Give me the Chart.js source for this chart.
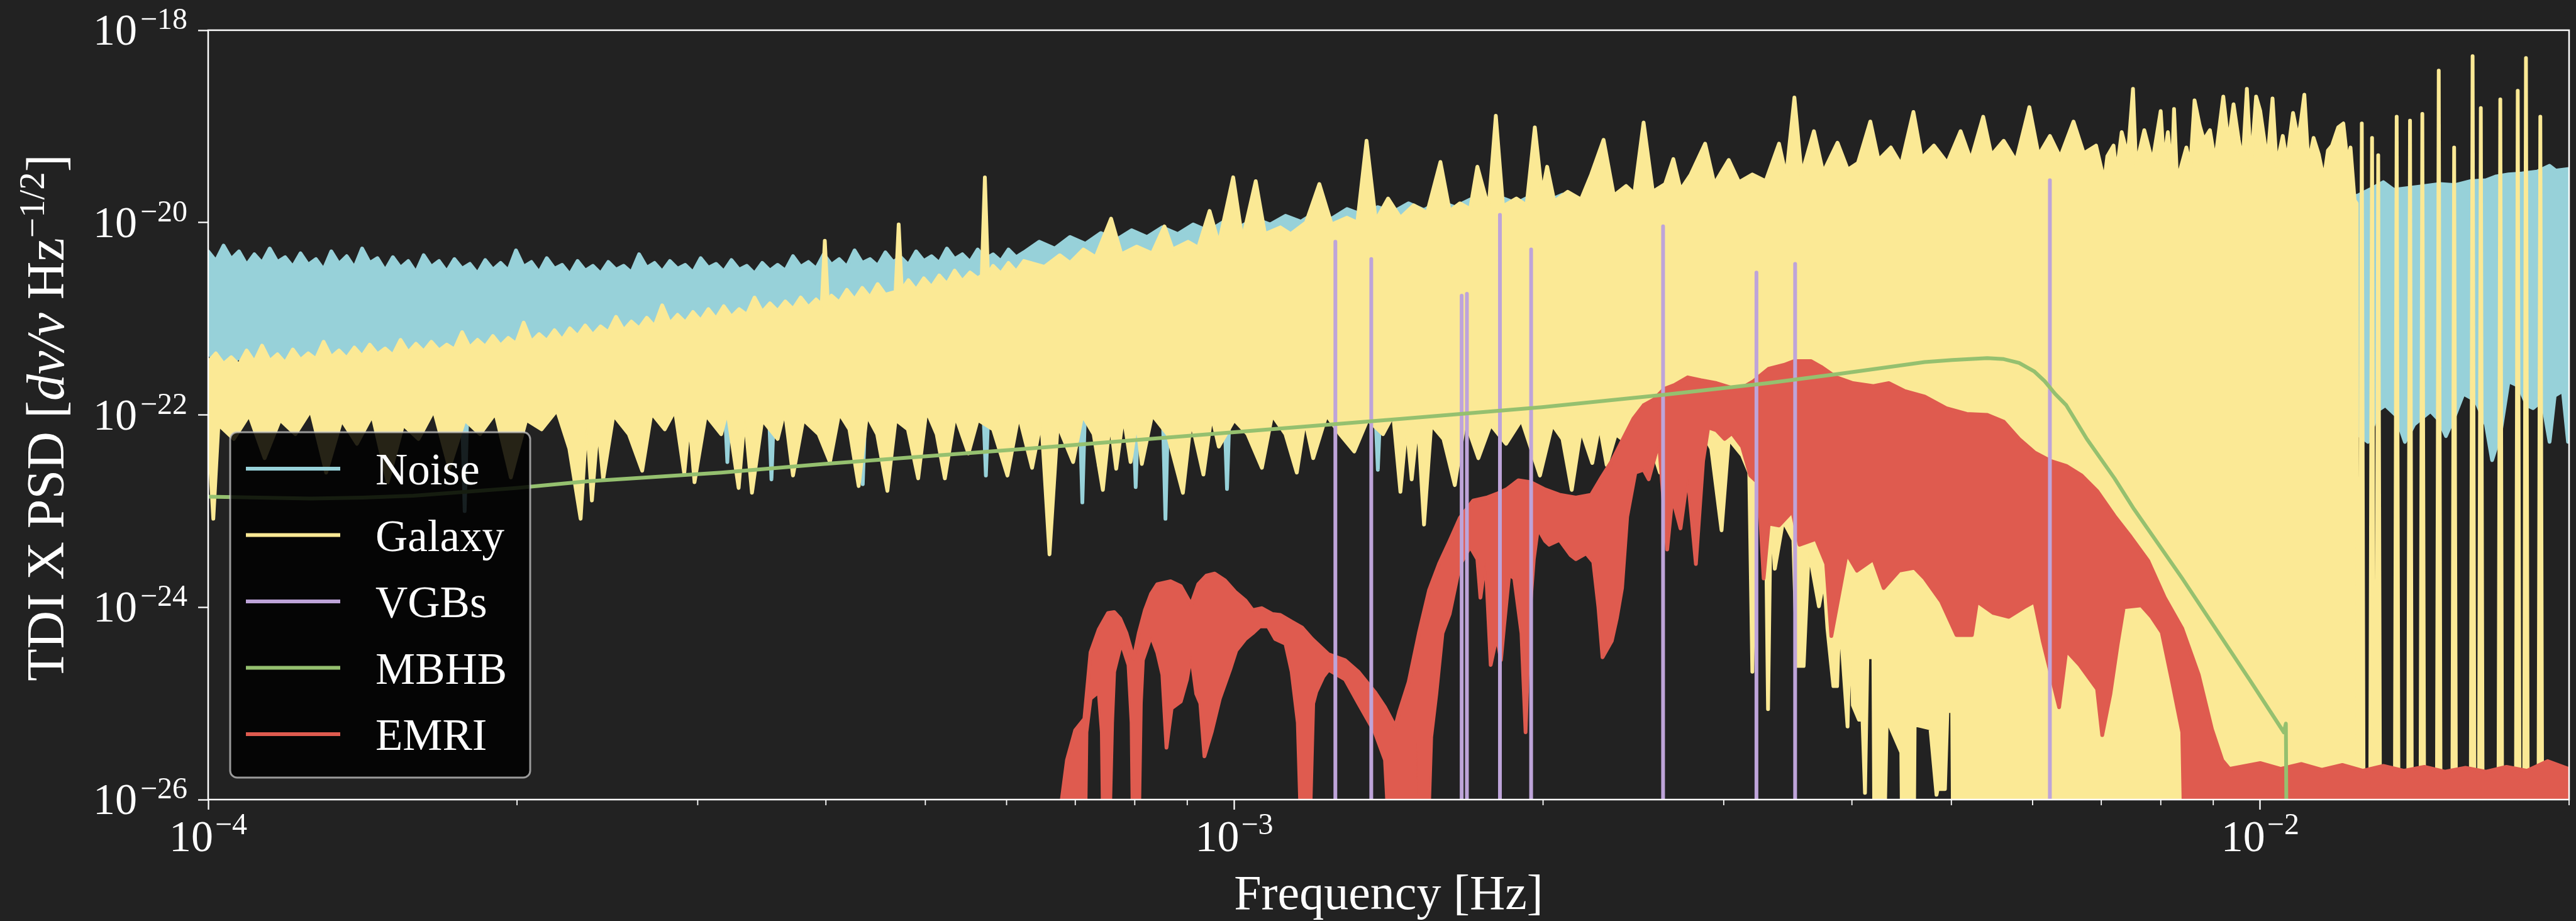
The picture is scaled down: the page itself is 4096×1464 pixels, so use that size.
<!DOCTYPE html>
<html>
<head>
<meta charset="utf-8">
<script src="https://cdn.jsdelivr.net/npm/chart.js@4.4.0/dist/chart.umd.min.js"></script>
<style>
  html, body { margin: 0; padding: 0; background: #222222; overflow: hidden; }
  canvas { display: block; }
</style>
</head>
<body>
<canvas id="psd" width="4096" height="1464"></canvas>
<script>
// every point is [log10 frequency (Hz), log10 PSD]
// -27 means "below the bottom of the plot"

var noiseTop = [[-4.0000,-20.30],[-3.9925,-20.40],[-3.9850,-20.24],[-3.9775,-20.38],[-3.9700,-20.30],[-3.9625,-20.44],[-3.9550,-20.33],[-3.9475,-20.42],[-3.9400,-20.27],[-3.9325,-20.41],[-3.9250,-20.36],[-3.9175,-20.46],[-3.9100,-20.32],[-3.9025,-20.44],[-3.8950,-20.38],[-3.8875,-20.49],[-3.8800,-20.30],[-3.8725,-20.43],[-3.8650,-20.35],[-3.8575,-20.47],[-3.8500,-20.27],[-3.8425,-20.42],[-3.8350,-20.37],[-3.8275,-20.50],[-3.8200,-20.36],[-3.8125,-20.47],[-3.8050,-20.40],[-3.7975,-20.52],[-3.7900,-20.34],[-3.7825,-20.46],[-3.7750,-20.40],[-3.7675,-20.51],[-3.7600,-20.38],[-3.7525,-20.48],[-3.7450,-20.43],[-3.7375,-20.53],[-3.7300,-20.39],[-3.7225,-20.49],[-3.7150,-20.42],[-3.7075,-20.50],[-3.7000,-20.29],[-3.6925,-20.46],[-3.6850,-20.41],[-3.6775,-20.52],[-3.6700,-20.37],[-3.6625,-20.48],[-3.6550,-20.44],[-3.6475,-20.54],[-3.6400,-20.40],[-3.6325,-20.50],[-3.6250,-20.45],[-3.6175,-20.53],[-3.6100,-20.41],[-3.6025,-20.49],[-3.5950,-20.45],[-3.5875,-20.52],[-3.5800,-20.33],[-3.5725,-20.47],[-3.5650,-20.42],[-3.5575,-20.51],[-3.5500,-20.40],[-3.5425,-20.48],[-3.5350,-20.44],[-3.5275,-20.52],[-3.5200,-20.37],[-3.5125,-20.47],[-3.5050,-20.43],[-3.4975,-20.51],[-3.4900,-20.39],[-3.4825,-20.49],[-3.4750,-20.45],[-3.4675,-20.53],[-3.4600,-20.42],[-3.4525,-20.50],[-3.4450,-20.44],[-3.4375,-20.50],[-3.4300,-20.35],[-3.4225,-20.46],[-3.4150,-20.41],[-3.4075,-20.48],[-3.4000,-20.33],[-3.3925,-20.44],[-3.3850,-20.38],[-3.3775,-20.46],[-3.3700,-20.29],[-3.3625,-20.42],[-3.3550,-20.38],[-3.3475,-20.45],[-3.3400,-20.31],[-3.3325,-20.41],[-3.3250,-20.36],[-3.3175,-20.44],[-3.3100,-20.30],[-3.3025,-20.40],[-3.2950,-20.35],[-3.2875,-20.42],[-3.2800,-20.27],[-3.2725,-20.38],[-3.2650,-20.33],[-3.2575,-20.41],[-3.2500,-20.28],[-3.2425,-20.38],[-3.2350,-20.33],[-3.2275,-20.40],[-3.2200,-20.28],[-3.2125,-20.36],[-3.2050,-20.31],[-3.190,-20.20],[-3.175,-20.27],[-3.160,-20.15],[-3.145,-20.22],[-3.130,-20.11],[-3.115,-20.18],[-3.100,-20.08],[-3.085,-20.15],[-3.070,-20.05],[-3.055,-20.12],[-3.040,-20.02],[-3.025,-20.09],[-3.010,-19.99],[-2.995,-20.05],[-2.980,-19.96],[-2.965,-20.02],[-2.950,-19.93],[-2.935,-19.99],[-2.920,-19.89],[-2.905,-19.96],[-2.890,-19.86],[-2.875,-19.92],[-2.860,-19.84],[-2.845,-19.89],[-2.830,-19.80],[-2.815,-19.87],[-2.800,-19.78],[-2.785,-19.84],[-2.770,-19.76],[-2.755,-19.82],[-2.740,-19.74],[-2.725,-19.80],[-2.710,-19.72],[-2.695,-19.78],[-2.680,-19.71],[-2.665,-19.77],[-2.650,-19.70],[-2.630,-19.75],[-2.600,-19.70],[-2.500,-19.78],[-2.400,-19.74],[-2.300,-19.76],[-2.200,-19.72],[-2.100,-19.74],[-2.000,-19.70],[-1.930,-19.73],[-1.905,-19.72],[-1.890,-19.64],[-1.880,-19.58],[-1.870,-19.66],[-1.855,-19.64],[-1.840,-19.62],[-1.825,-19.60],[-1.810,-19.61],[-1.795,-19.57],[-1.780,-19.56],[-1.770,-19.52],[-1.758,-19.50],[-1.745,-19.49],[-1.730,-19.47],[-1.718,-19.41],[-1.712,-19.46],[-1.697,-19.44]];

var noiseBottom = [[-4.000,-21.35],[-3.985,-21.55],[-3.970,-21.40],[-3.955,-21.60],[-3.940,-21.50],[-3.920,-21.70],[-3.900,-21.65],[-3.850,-21.75],[-3.753,-21.80],[-3.750,-23.00],[-3.747,-21.80],[-3.600,-21.75],[-3.497,-21.80],[-3.494,-22.49],[-3.491,-21.80],[-3.454,-21.80],[-3.451,-22.67],[-3.448,-21.80],[-3.365,-21.80],[-3.362,-22.72],[-3.359,-21.80],[-3.245,-21.80],[-3.242,-22.63],[-3.239,-21.80],[-3.151,-21.80],[-3.148,-22.91],[-3.145,-21.80],[-3.135,-21.80],[-3.132,-22.52],[-3.129,-21.80],[-3.099,-21.80],[-3.096,-22.75],[-3.093,-21.80],[-3.070,-21.80],[-3.067,-23.08],[-3.064,-21.80],[-3.010,-21.80],[-3.007,-22.77],[-3.004,-21.80],[-2.863,-21.80],[-2.860,-22.57],[-2.857,-21.80],[-2.600,-21.80],[-2.000,-21.80],[-1.906,-21.80],[-1.905,-22.20],[-1.895,-22.28],[-1.885,-21.95],[-1.878,-21.90],[-1.868,-22.00],[-1.859,-22.28],[-1.850,-22.10],[-1.834,-21.96],[-1.826,-22.05],[-1.819,-22.22],[-1.810,-22.00],[-1.802,-21.78],[-1.790,-21.85],[-1.780,-22.10],[-1.774,-22.47],[-1.766,-22.20],[-1.758,-21.65],[-1.748,-21.70],[-1.740,-21.90],[-1.734,-21.93],[-1.725,-21.85],[-1.718,-22.28],[-1.713,-21.80],[-1.705,-21.75],[-1.700,-22.28],[-1.697,-22.20]];

var galaxyTop = [[-4.0000,-21.45],[-3.9925,-21.36],[-3.9850,-21.47],[-3.9775,-21.40],[-3.9700,-21.48],[-3.9625,-21.33],[-3.9550,-21.45],[-3.9475,-21.28],[-3.9400,-21.44],[-3.9325,-21.37],[-3.9250,-21.46],[-3.9175,-21.32],[-3.9100,-21.43],[-3.9025,-21.36],[-3.8950,-21.42],[-3.8875,-21.24],[-3.8800,-21.40],[-3.8725,-21.33],[-3.8650,-21.41],[-3.8575,-21.30],[-3.8500,-21.39],[-3.8425,-21.27],[-3.8350,-21.37],[-3.8275,-21.31],[-3.8200,-21.38],[-3.8125,-21.22],[-3.8050,-21.35],[-3.7975,-21.26],[-3.7900,-21.34],[-3.7825,-21.24],[-3.7750,-21.33],[-3.7675,-21.27],[-3.7600,-21.32],[-3.7525,-21.14],[-3.7450,-21.30],[-3.7375,-21.22],[-3.7300,-21.29],[-3.7225,-21.18],[-3.7150,-21.28],[-3.7075,-21.20],[-3.7000,-21.26],[-3.6925,-21.04],[-3.6850,-21.24],[-3.6775,-21.16],[-3.6700,-21.23],[-3.6625,-21.12],[-3.6550,-21.22],[-3.6475,-21.10],[-3.6400,-21.18],[-3.6325,-21.07],[-3.6250,-21.17],[-3.6175,-21.08],[-3.6100,-21.14],[-3.6025,-20.98],[-3.5950,-21.12],[-3.5875,-21.03],[-3.5800,-21.10],[-3.5725,-20.99],[-3.5650,-21.08],[-3.5575,-20.86],[-3.5500,-21.05],[-3.5425,-20.96],[-3.5350,-21.04],[-3.5275,-20.93],[-3.5200,-21.02],[-3.5125,-20.90],[-3.5050,-21.00],[-3.4975,-20.87],[-3.4900,-20.98],[-3.4825,-20.90],[-3.4750,-20.96],[-3.4675,-20.78],[-3.4600,-20.93],[-3.4525,-20.84],[-3.4450,-20.92],[-3.4375,-20.82],[-3.4300,-20.90],[-3.4225,-20.78],[-3.4150,-20.88],[-3.4075,-20.80],[-3.4020,-20.86],[-3.3990,-20.19],[-3.3960,-20.84],[-3.3925,-20.76],[-3.3850,-20.83],[-3.3775,-20.70],[-3.3700,-20.80],[-3.3625,-20.68],[-3.3550,-20.78],[-3.3475,-20.64],[-3.3400,-20.75],[-3.3300,-20.72],[-3.3270,-20.02],[-3.3240,-20.70],[-3.3175,-20.60],[-3.3100,-20.70],[-3.3025,-20.58],[-3.2950,-20.67],[-3.2875,-20.55],[-3.2800,-20.64],[-3.2725,-20.50],[-3.2650,-20.61],[-3.2575,-20.52],[-3.2500,-20.58],[-3.2460,-20.55],[-3.2430,-19.53],[-3.2400,-20.54],[-3.2350,-20.45],[-3.2275,-20.53],[-3.2200,-20.42],[-3.2125,-20.51],[-3.2050,-20.40],[-3.185,-20.46],[-3.170,-20.34],[-3.160,-20.42],[-3.147,-20.28],[-3.135,-20.36],[-3.120,-19.96],[-3.110,-20.33],[-3.095,-20.25],[-3.080,-20.32],[-3.068,-20.04],[-3.060,-20.28],[-3.045,-20.20],[-3.035,-20.26],[-3.024,-19.88],[-3.015,-20.22],[-3.001,-19.53],[-2.992,-20.18],[-2.979,-19.57],[-2.970,-20.12],[-2.955,-20.05],[-2.945,-20.12],[-2.930,-20.00],[-2.917,-19.60],[-2.905,-20.02],[-2.890,-19.95],[-2.880,-20.00],[-2.871,-19.15],[-2.862,-19.98],[-2.850,-19.75],[-2.838,-19.95],[-2.825,-19.82],[-2.812,-19.90],[-2.799,-19.37],[-2.790,-19.88],[-2.780,-19.80],[-2.770,-19.86],[-2.763,-19.42],[-2.752,-19.85],[-2.745,-18.89],[-2.738,-19.83],[-2.725,-19.75],[-2.715,-19.82],[-2.707,-19.01],[-2.700,-19.70],[-2.695,-19.42],[-2.688,-19.78],[-2.675,-19.68],[-2.662,-19.76],[-2.652,-19.50],[-2.640,-19.14],[-2.630,-19.72],[-2.618,-19.62],[-2.610,-19.70],[-2.601,-18.96],[-2.592,-19.68],[-2.580,-19.60],[-2.572,-19.34],[-2.565,-19.66],[-2.555,-19.50],[-2.541,-19.18],[-2.532,-19.60],[-2.518,-19.35],[-2.508,-19.58],[-2.495,-19.50],[-2.482,-19.57],[-2.469,-19.18],[-2.462,-19.52],[-2.454,-18.70],[-2.447,-19.50],[-2.435,-19.05],[-2.426,-19.48],[-2.412,-19.17],[-2.402,-19.45],[-2.392,-19.38],[-2.380,-18.95],[-2.372,-19.35],[-2.360,-19.22],[-2.350,-19.40],[-2.338,-18.85],[-2.330,-19.33],[-2.318,-19.20],[-2.305,-19.38],[-2.292,-19.05],[-2.282,-19.35],[-2.270,-18.90],[-2.262,-19.30],[-2.250,-19.15],[-2.238,-19.36],[-2.225,-18.80],[-2.216,-19.30],[-2.205,-19.10],[-2.195,-19.32],[-2.182,-18.95],[-2.172,-19.28],[-2.160,-19.20],[-2.152,-19.57],[-2.149,-19.31],[-2.143,-19.20],[-2.140,-19.49],[-2.135,-19.06],[-2.129,-19.31],[-2.124,-18.61],[-2.121,-19.41],[-2.113,-19.04],[-2.105,-19.37],[-2.097,-18.84],[-2.094,-19.37],[-2.090,-19.06],[-2.086,-19.49],[-2.084,-18.82],[-2.081,-19.57],[-2.072,-19.22],[-2.068,-19.41],[-2.064,-18.73],[-2.059,-18.99],[-2.055,-19.14],[-2.049,-19.04],[-2.044,-19.37],[-2.036,-18.69],[-2.031,-19.18],[-2.026,-18.77],[-2.021,-19.14],[-2.017,-19.37],[-2.013,-18.61],[-2.009,-19.41],[-2.004,-18.69],[-2.000,-18.84],[-1.996,-19.14],[-1.993,-19.37],[-1.988,-18.71],[-1.984,-19.41],[-1.978,-19.10],[-1.974,-19.37],[-1.968,-18.86],[-1.963,-19.14],[-1.960,-18.92],[-1.957,-18.67],[-1.953,-19.39],[-1.948,-19.12],[-1.943,-19.29],[-1.938,-19.55],[-1.934,-19.25],[-1.930,-19.20],[-1.924,-19.01],[-1.919,-18.97],[-1.915,-19.37],[-1.912,-19.22],[-1.908,-19.77],[-1.906,-19.80],[-1.905,-27],[-1.903,-27],[-1.901,-18.97],[-1.899,-27],[-1.893,-27],[-1.891,-19.12],[-1.889,-27],[-1.887,-27],[-1.885,-19.30],[-1.883,-27],[-1.869,-27],[-1.867,-18.90],[-1.865,-27],[-1.856,-27],[-1.854,-18.94],[-1.852,-27],[-1.844,-27],[-1.842,-18.87],[-1.840,-27],[-1.828,-27],[-1.826,-18.42],[-1.824,-27],[-1.813,-27],[-1.811,-19.22],[-1.809,-27],[-1.795,-27],[-1.793,-18.27],[-1.791,-27],[-1.787,-27],[-1.785,-18.81],[-1.783,-27],[-1.768,-27],[-1.766,-18.72],[-1.764,-27],[-1.751,-27],[-1.749,-18.63],[-1.747,-27],[-1.743,-27],[-1.741,-18.29],[-1.739,-27],[-1.729,-27],[-1.727,-18.90],[-1.725,-27],[-1.697,-27]];

var galaxyBottom = [[-4.000,-22.15],[-3.995,-23.08],[-3.990,-22.10],[-3.975,-22.25],[-3.960,-22.00],[-3.945,-22.45],[-3.930,-22.05],[-3.915,-22.20],[-3.900,-21.95],[-3.885,-22.60],[-3.870,-22.05],[-3.855,-22.30],[-3.840,-22.00],[-3.825,-22.70],[-3.810,-22.10],[-3.795,-22.25],[-3.780,-21.95],[-3.765,-22.55],[-3.750,-22.05],[-3.735,-22.20],[-3.720,-21.98],[-3.705,-22.65],[-3.690,-22.05],[-3.675,-22.15],[-3.660,-21.95],[-3.648,-22.35],[-3.637,-23.08],[-3.631,-22.05],[-3.626,-22.89],[-3.620,-22.10],[-3.615,-22.67],[-3.605,-22.00],[-3.590,-22.20],[-3.577,-22.58],[-3.568,-21.98],[-3.555,-22.15],[-3.545,-21.95],[-3.536,-22.61],[-3.531,-22.05],[-3.526,-22.70],[-3.515,-22.00],[-3.500,-22.20],[-3.494,-21.95],[-3.483,-22.76],[-3.477,-22.00],[-3.470,-22.81],[-3.460,-22.05],[-3.445,-22.25],[-3.438,-21.95],[-3.430,-22.63],[-3.420,-22.05],[-3.405,-22.20],[-3.394,-22.49],[-3.385,-21.98],[-3.375,-22.15],[-3.366,-22.74],[-3.358,-22.00],[-3.348,-22.20],[-3.338,-22.79],[-3.330,-22.05],[-3.318,-22.15],[-3.308,-22.66],[-3.300,-21.95],[-3.290,-22.20],[-3.282,-22.66],[-3.272,-22.00],[-3.259,-22.40],[-3.250,-22.05],[-3.235,-22.15],[-3.221,-22.63],[-3.210,-22.00],[-3.197,-22.55],[-3.188,-22.05],[-3.180,-23.45],[-3.172,-22.10],[-3.157,-22.49],[-3.148,-22.00],[-3.137,-22.20],[-3.128,-22.78],[-3.121,-22.05],[-3.115,-22.56],[-3.108,-22.00],[-3.101,-22.49],[-3.095,-22.05],[-3.090,-22.51],[-3.080,-22.00],[-3.065,-22.20],[-3.050,-22.81],[-3.042,-22.05],[-3.030,-22.62],[-3.022,-22.00],[-3.015,-22.33],[-3.000,-22.05],[-2.987,-22.20],[-2.973,-22.55],[-2.963,-22.00],[-2.950,-22.20],[-2.939,-22.60],[-2.931,-22.05],[-2.923,-22.45],[-2.910,-22.00],[-2.897,-22.20],[-2.883,-22.38],[-2.870,-22.05],[-2.855,-22.20],[-2.845,-22.00],[-2.838,-22.80],[-2.832,-22.10],[-2.827,-22.67],[-2.821,-22.05],[-2.815,-23.14],[-2.808,-22.10],[-2.796,-22.25],[-2.785,-22.73],[-2.775,-22.05],[-2.762,-22.45],[-2.750,-22.10],[-2.735,-22.30],[-2.720,-22.05],[-2.702,-22.63],[-2.690,-22.10],[-2.680,-22.25],[-2.671,-22.78],[-2.662,-22.15],[-2.651,-22.50],[-2.644,-22.10],[-2.637,-22.52],[-2.628,-22.20],[-2.616,-22.30],[-2.600,-22.10],[-2.585,-22.60],[-2.570,-22.20],[-2.555,-22.45],[-2.545,-22.15],[-2.535,-22.35],[-2.525,-23.20],[-2.518,-22.25],[-2.505,-22.42],[-2.498,-22.60],[-2.495,-24.67],[-2.492,-22.80],[-2.482,-22.90],[-2.4797,-25.06],[-2.477,-22.90],[-2.4731,-23.60],[-2.465,-23.10],[-2.455,-23.30],[-2.4514,-24.61],[-2.445,-24.61],[-2.440,-23.40],[-2.4301,-23.99],[-2.425,-23.70],[-2.4218,-24.22],[-2.416,-24.82],[-2.4124,-24.82],[-2.410,-24.05],[-2.4022,-25.24],[-2.3994,-24.05],[-2.397,-25.02],[-2.3911,-25.17],[-2.3876,-25.17],[-2.3852,-25.93],[-2.3829,-24.52],[-2.3770,-24.52],[-2.3758,-27],[-2.3675,-27],[-2.364,-25.16],[-2.3498,-25.51],[-2.3486,-27],[-2.338,-27],[-2.3368,-25.22],[-2.3214,-25.26],[-2.3155,-25.95],[-2.3144,-25.89],[-2.3073,-25.89],[-2.3049,-25.08],[-2.3002,-25.08],[-2.2990,-27],[-1.697,-27]];

var vgbLines = [[-2.9014,-20.20],[-2.8664,-20.38],[-2.7783,-20.76],[-2.7732,-20.74],[-2.7410,-19.92],[-2.7106,-20.28],[-2.5820,-20.04],[-2.4910,-20.52],[-2.4533,-20.43],[-2.2050,-19.56]];

var mbhb = [[-4.000,-22.85],[-3.950,-22.86],[-3.900,-22.87],[-3.850,-22.86],[-3.800,-22.84],[-3.700,-22.76],[-3.630,-22.69],[-3.500,-22.60],[-3.400,-22.51],[-3.300,-22.43],[-3.200,-22.35],[-3.000,-22.18],[-2.835,-22.04],[-2.700,-21.92],[-2.581,-21.79],[-2.480,-21.67],[-2.408,-21.57],[-2.360,-21.50],[-2.327,-21.45],[-2.300,-21.43],[-2.266,-21.41],[-2.250,-21.42],[-2.235,-21.46],[-2.220,-21.55],[-2.210,-21.65],[-2.200,-21.78],[-2.189,-21.90],[-2.169,-22.25],[-2.142,-22.66],[-2.123,-22.98],[-2.076,-23.70],[-2.010,-24.76],[-1.977,-25.30],[-1.975,-25.21],[-1.974,-27]];

var emriTop = [[-3.180,-27],[-3.168,-26.00],[-3.163,-25.59],[-3.155,-25.28],[-3.146,-25.16],[-3.140,-24.47],[-3.132,-24.23],[-3.123,-24.06],[-3.117,-24.05],[-3.111,-24.12],[-3.105,-24.27],[-3.098,-24.53],[-3.093,-24.27],[-3.087,-24.03],[-3.081,-23.86],[-3.075,-23.76],[-3.062,-23.73],[-3.052,-23.78],[-3.042,-23.97],[-3.035,-23.76],[-3.027,-23.67],[-3.019,-23.65],[-3.009,-23.72],[-2.999,-23.84],[-2.989,-23.93],[-2.982,-24.03],[-2.973,-24.01],[-2.963,-24.07],[-2.955,-24.08],[-2.944,-24.15],[-2.934,-24.21],[-2.924,-24.33],[-2.908,-24.49],[-2.892,-24.55],[-2.879,-24.67],[-2.863,-24.88],[-2.853,-25.04],[-2.843,-25.24],[-2.839,-25.08],[-2.830,-24.78],[-2.820,-24.27],[-2.810,-23.82],[-2.800,-23.54],[-2.790,-23.31],[-2.780,-23.07],[-2.767,-22.89],[-2.754,-22.86],[-2.744,-22.82],[-2.734,-22.77],[-2.723,-22.68],[-2.711,-22.70],[-2.698,-22.77],[-2.683,-22.83],[-2.667,-22.86],[-2.652,-22.83],[-2.642,-22.65],[-2.632,-22.48],[-2.621,-22.25],[-2.611,-22.04],[-2.601,-21.90],[-2.591,-21.84],[-2.581,-21.73],[-2.571,-21.69],[-2.558,-21.61],[-2.545,-21.64],[-2.530,-21.67],[-2.515,-21.72],[-2.505,-21.72],[-2.494,-21.65],[-2.479,-21.52],[-2.464,-21.48],[-2.454,-21.44],[-2.438,-21.44],[-2.428,-21.50],[-2.413,-21.61],[-2.397,-21.67],[-2.377,-21.70],[-2.362,-21.67],[-2.347,-21.75],[-2.327,-21.81],[-2.306,-21.93],[-2.286,-21.99],[-2.266,-22.00],[-2.250,-22.07],[-2.235,-22.25],[-2.220,-22.39],[-2.204,-22.48],[-2.189,-22.53],[-2.174,-22.63],[-2.159,-22.79],[-2.142,-23.05],[-2.126,-23.27],[-2.109,-23.52],[-2.093,-23.90],[-2.076,-24.22],[-2.060,-24.70],[-2.047,-25.27],[-2.037,-25.59],[-2.030,-25.68],[-2.000,-25.62],[-1.980,-25.68],[-1.960,-25.63],[-1.940,-25.69],[-1.920,-25.64],[-1.900,-25.70],[-1.880,-25.65],[-1.860,-25.70],[-1.840,-25.66],[-1.820,-25.71],[-1.800,-25.67],[-1.780,-25.71],[-1.760,-25.66],[-1.740,-25.70],[-1.720,-25.60],[-1.697,-25.69]];

var emriBottom = [[-3.180,-27],[-3.146,-27],[-3.144,-25.30],[-3.140,-24.95],[-3.132,-24.88],[-3.129,-25.30],[-3.127,-27],[-3.123,-27],[-3.119,-25.20],[-3.117,-24.67],[-3.110,-24.37],[-3.103,-24.60],[-3.100,-25.20],[-3.098,-27],[-3.094,-27],[-3.091,-25.00],[-3.089,-24.55],[-3.081,-24.30],[-3.075,-24.47],[-3.070,-24.70],[-3.066,-25.46],[-3.061,-25.05],[-3.052,-24.98],[-3.046,-24.75],[-3.042,-24.50],[-3.037,-24.90],[-3.033,-25.00],[-3.029,-25.55],[-3.022,-25.30],[-3.014,-24.95],[-3.004,-24.65],[-2.998,-24.45],[-2.989,-24.33],[-2.982,-24.27],[-2.975,-24.20],[-2.967,-24.20],[-2.960,-24.33],[-2.950,-24.38],[-2.944,-24.67],[-2.938,-25.20],[-2.933,-27],[-2.928,-27],[-2.923,-25.00],[-2.920,-24.88],[-2.913,-24.72],[-2.908,-24.65],[-2.892,-24.75],[-2.879,-25.00],[-2.863,-25.30],[-2.853,-25.59],[-2.846,-27],[-2.824,-27],[-2.822,-25.40],[-2.820,-27],[-2.813,-27],[-2.808,-25.35],[-2.803,-24.90],[-2.797,-24.27],[-2.790,-24.07],[-2.780,-23.56],[-2.770,-23.37],[-2.763,-23.50],[-2.760,-23.90],[-2.755,-23.50],[-2.750,-24.60],[-2.744,-24.30],[-2.740,-24.55],[-2.737,-24.20],[-2.732,-23.66],[-2.727,-23.70],[-2.720,-24.27],[-2.716,-25.30],[-2.712,-24.07],[-2.708,-23.50],[-2.704,-23.18],[-2.697,-23.31],[-2.693,-23.35],[-2.683,-23.30],[-2.672,-23.46],[-2.667,-23.50],[-2.657,-23.44],[-2.650,-23.53],[-2.645,-24.00],[-2.641,-24.52],[-2.632,-24.35],[-2.627,-24.11],[-2.622,-23.80],[-2.617,-23.06],[-2.609,-22.60],[-2.601,-22.57],[-2.596,-22.67],[-2.586,-22.28],[-2.578,-23.40],[-2.573,-22.86],[-2.565,-23.18],[-2.558,-22.63],[-2.550,-23.55],[-2.543,-22.48],[-2.538,-22.13],[-2.530,-22.16],[-2.522,-22.25],[-2.515,-22.19],[-2.505,-22.33],[-2.497,-22.63],[-2.489,-22.71],[-2.484,-23.70],[-2.479,-23.13],[-2.469,-23.15],[-2.456,-23.00],[-2.449,-23.35],[-2.433,-23.29],[-2.423,-23.55],[-2.418,-24.30],[-2.403,-23.44],[-2.393,-23.62],[-2.377,-23.50],[-2.367,-23.80],[-2.352,-23.62],[-2.337,-23.59],[-2.327,-23.70],[-2.311,-23.94],[-2.296,-24.29],[-2.281,-24.29],[-2.276,-23.94],[-2.260,-24.06],[-2.245,-24.10],[-2.230,-24.00],[-2.220,-23.94],[-2.212,-24.35],[-2.196,-25.04],[-2.189,-24.45],[-2.176,-24.60],[-2.159,-24.85],[-2.154,-25.33],[-2.146,-24.90],[-2.139,-24.39],[-2.133,-24.00],[-2.116,-23.98],[-2.106,-24.10],[-2.096,-24.26],[-2.086,-24.77],[-2.076,-25.30],[-2.073,-27],[-1.697,-27]];

var seriesNames = ['Noise', 'Galaxy', 'VGBs', 'MBHB', 'EMRI'];
var seriesColors = ['#97d1d9', '#fbe995', '#bea4d9', '#95c06f', '#df5b4f'];

var xMajorExp = [-4, -3, -2];
var xMinorTicks = [2e-4, 3e-4, 4e-4, 5e-4, 6e-4, 7e-4, 8e-4, 9e-4, 2e-3, 3e-3, 4e-3, 5e-3, 6e-3, 7e-3, 8e-3, 9e-3, 2e-2];
var yMajorExp = [-26, -24, -22, -20, -18];

var SERIF = '"Liberation Serif", "DejaVu Serif", serif';
var LW = 6;

function toPoints(arr) {
    return arr.map(function (p) { return {x: Math.pow(10, p[0]), y: Math.pow(10, p[1])}; });
}

// each VGB is a thin vertical line from below the axis up to its peak
function vgbPoints(arr) {
    var out = [];
    arr.forEach(function (p) {
        out.push([p[0], -27], [p[0], p[1]], [p[0], -27]);
    });
    return toPoints(out);
}

function band(label, color, order, top, bottom) {
    return [{
        label: label,
        data: toPoints(top),
        borderColor: color,
        backgroundColor: color,
        borderWidth: LW,
        fill: '+1',
        order: order,
        clip: 0
    }, {
        label: label + ' low',
        data: toPoints(bottom),
        borderColor: color,
        backgroundColor: color,
        borderWidth: LW,
        fill: false,
        order: order,
        clip: 0
    }];
}

var datasets = [].concat(
    band('Noise', seriesColors[0], 5, noiseTop, noiseBottom),
    band('Galaxy', seriesColors[1], 4, galaxyTop, galaxyBottom),
    band('EMRI', seriesColors[4], 3, emriTop, emriBottom),
    [{
        label: 'VGBs',
        data: vgbPoints(vgbLines),
        borderColor: seriesColors[2],
        borderWidth: LW,
        fill: false,
        order: 2,
        clip: 0
    }, {
        label: 'MBHB',
        data: toPoints(mbhb),
        borderColor: seriesColors[3],
        borderWidth: LW,
        fill: false,
        order: 1,
        clip: 0
    }]
);

// background of the whole figure
var bgPlugin = {
    id: 'bg',
    beforeDraw: function (chart) {
        var c = chart.ctx;
        c.save();
        c.fillStyle = '#222222';
        c.fillRect(0, 0, chart.width, chart.height);
        c.restore();
    }
};

function powerParts(e) {
    return {base: '10', exp: '\u2212' + Math.abs(e)};
}

// frame, minor ticks, power-of-ten labels, titles and legend
var decorPlugin = {
    id: 'decor',
    afterDraw: function (chart) {
        var c = chart.ctx;
        var a = chart.chartArea;
        var xs = chart.scales.x;
        var ys = chart.scales.y;
        c.save();

        // frame
        c.strokeStyle = '#ffffff';
        c.lineWidth = 2.5;
        c.strokeRect(a.left, a.top, a.right - a.left, a.bottom - a.top);

        // minor x ticks
        c.lineWidth = 1.8;
        xMinorTicks.forEach(function (v) {
            var px = xs.getPixelForValue(v);
            c.beginPath();
            c.moveTo(px, a.bottom);
            c.lineTo(px, a.bottom + 9);
            c.stroke();
        });

        c.fillStyle = '#ffffff';
        c.textBaseline = 'alphabetic';

        // y tick labels
        yMajorExp.forEach(function (e) {
            var py = ys.getPixelForValue(Math.pow(10, e));
            var t = powerParts(e);
            c.textAlign = 'right';
            c.font = '48px ' + SERIF;
            var ew = c.measureText(t.exp).width;
            c.fillText(t.exp, 298, py - 2);
            c.font = '70px ' + SERIF;
            c.fillText(t.base, 298 - ew - 5, py + 23);
        });

        // x tick labels
        xMajorExp.forEach(function (e) {
            var px = xs.getPixelForValue(Math.pow(10, e));
            var t = powerParts(e);
            c.textAlign = 'left';
            c.font = '70px ' + SERIF;
            var bw = c.measureText(t.base).width;
            c.font = '48px ' + SERIF;
            var ew = c.measureText(t.exp).width;
            var left = px - (bw + 3 + ew) / 2;
            c.font = '70px ' + SERIF;
            c.fillText(t.base, left, 1353);
            c.font = '48px ' + SERIF;
            c.fillText(t.exp, left + bw + 3, 1326);
        });

        // x title
        c.textAlign = 'center';
        c.font = '78px ' + SERIF;
        c.fillText('Frequency [Hz]', (a.left + a.right) / 2, 1445);

        // y title, rotated, with italic dν/ν and a superscript
        var parts = [
            {t: 'TDI X PSD [', f: '84px ' + SERIF, dy: 0},
            {t: 'd\u03bd/\u03bd', f: 'italic 84px ' + SERIF, dy: 0},
            {t: ' Hz', f: '84px ' + SERIF, dy: 0},
            {t: '\u22121/2', f: '57px ' + SERIF, dy: -31},
            {t: ']', f: '84px ' + SERIF, dy: 0}
        ];
        var total = 0;
        parts.forEach(function (p) { c.font = p.f; p.w = c.measureText(p.t).width; total += p.w; });
        c.save();
        c.translate(101, 664);
        c.rotate(-Math.PI / 2);
        c.textAlign = 'left';
        var cx = -total / 2;
        parts.forEach(function (p) {
            c.font = p.f;
            c.fillText(p.t, cx, p.dy);
            cx += p.w;
        });
        c.restore();

        // legend box
        var lx = 366, ly = 687, lw = 477, lh = 549, r = 11;
        c.beginPath();
        c.moveTo(lx + r, ly);
        c.lineTo(lx + lw - r, ly);
        c.arcTo(lx + lw, ly, lx + lw, ly + r, r);
        c.lineTo(lx + lw, ly + lh - r);
        c.arcTo(lx + lw, ly + lh, lx + lw - r, ly + lh, r);
        c.lineTo(lx + r, ly + lh);
        c.arcTo(lx, ly + lh, lx, ly + lh - r, r);
        c.lineTo(lx, ly + r);
        c.arcTo(lx, ly, lx + r, ly, r);
        c.closePath();
        c.fillStyle = 'rgba(0,0,0,0.85)';
        c.fill();
        c.strokeStyle = 'rgba(200,200,200,0.75)';
        c.lineWidth = 3;
        c.stroke();

        seriesNames.forEach(function (name, i) {
            var y = 745 + i * 105.5;
            c.strokeStyle = seriesColors[i];
            c.lineWidth = LW;
            c.beginPath();
            c.moveTo(391, y);
            c.lineTo(541, y);
            c.stroke();
            c.fillStyle = '#ffffff';
            c.textAlign = 'left';
            c.font = '71px ' + SERIF;
            c.fillText(name, 597, y + 25);
        });

        c.restore();
    }
};

new Chart(document.getElementById('psd'), {
    type: 'line',
    data: {datasets: datasets},
    options: {
        responsive: false,
        animation: false,
        devicePixelRatio: 1,
        events: [],
        layout: {padding: {top: 48, right: 11, bottom: 0, left: 0}},
        elements: {
            point: {radius: 0},
            line: {tension: 0, borderJoinStyle: 'round', borderCapStyle: 'round'}
        },
        plugins: {
            legend: {display: false},
            tooltip: {enabled: false}
        },
        scales: {
            x: {
                type: 'logarithmic',
                position: 'bottom',
                min: 1e-4,
                max: 0.02,
                afterBuildTicks: function (s) {
                    s.ticks = xMajorExp.map(function (e) { return {value: Math.pow(10, e)}; });
                },
                afterFit: function (s) { s.height = 193; },
                ticks: {display: false, autoSkip: false},
                grid: {display: true, drawOnChartArea: false, drawTicks: true, tickLength: 16, tickWidth: 2.3, tickColor: '#ffffff'},
                border: {display: false}
            },
            y: {
                type: 'logarithmic',
                position: 'left',
                min: 1e-26,
                max: 1e-18,
                afterBuildTicks: function (s) {
                    s.ticks = yMajorExp.map(function (e) { return {value: Math.pow(10, e)}; });
                },
                afterFit: function (s) { s.width = 331; },
                ticks: {display: false, autoSkip: false},
                grid: {display: true, drawOnChartArea: false, drawTicks: true, tickLength: 16, tickWidth: 2.3, tickColor: '#ffffff'},
                border: {display: false}
            }
        }
    },
    plugins: [bgPlugin, decorPlugin]
});
</script>
</body>
</html>
